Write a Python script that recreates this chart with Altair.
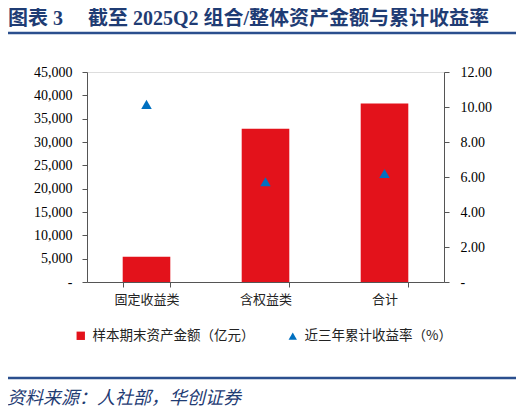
import altair as alt
import pandas as pd

categories = ["固定收益类", "含权益类", "合计"]
assets = [5400, 32850, 38250]          # 样本期末资产金额（亿元）
returns = [10.15, 5.73, 6.20]          # 近三年累计收益率（%）
left_ticks = list(range(0, 45001, 5000))
right_ticks = [0, 2, 4, 6, 8, 10, 12]

s1 = "样本期末资产金额（亿元）"
s2 = "近三年累计收益率（%）"
title_text = "图表 3\u3000 截至 2025Q2 组合/整体资产金额与累计收益率"
source_text = "资料来源：人社部，华创证券"

df_bar = pd.DataFrame({"cat": categories, "val": assets, "series": s1})
df_pt = pd.DataFrame({"cat": categories, "val": returns, "series": s2})

RED = "#E3121B"
BLUE = "#0070C0"
NAVY = "#1F3C74"
CJK = "Noto Sans CJK SC"
SERIF = "Liberation Serif"
MIXED = "Liberation Serif, Noto Sans CJK SC"

W, H = 357, 210

xenc = alt.X(
    "cat:N", sort=categories, title=None,
    scale=alt.Scale(paddingInner=0.6, paddingOuter=0.3),
    axis=alt.Axis(tickBand="extent", labelAngle=0, labelFont=CJK, labelFontSize=13,
                  labelColor="#222222", domainColor="#555555", tickColor="#555555",
                  tickSize=5, labelPadding=6),
)

color_scale = alt.Scale(domain=[s1, s2], range=[RED, BLUE])
shape_scale = alt.Scale(domain=[s1, s2], range=["square", "triangle-up"])

legend = alt.Legend(
    title=None, orient="none", direction="horizontal", legendX=-13, legendY=257,
    labelFont=CJK, labelFontSize=13.5, labelColor="#222222", symbolSize=70,
    columnPadding=30, symbolOpacity=1, labelOffset=5, labelLimit=300,
)

bars = alt.Chart(df_bar).mark_bar(color=RED).encode(
    x=xenc,
    y=alt.Y("val:Q", title=None,
            scale=alt.Scale(domain=[0, 45000], nice=False),
            axis=alt.Axis(values=left_ticks, grid=False, orient="left",
                          labelExpr="datum.value == 0 ? '-\u00a0\u00a0\u00a0\u00a0' : format(datum.value, ',')",
                          labelFont=SERIF, labelFontSize=14, labelColor="#000000",
                          domainColor="#555555", tickColor="#555555", tickSize=5,
                          labelPadding=10)),
    color=alt.Color("series:N", scale=color_scale, legend=legend),
    shape=alt.Shape("series:N", scale=shape_scale, legend=legend),
)

points = alt.Chart(df_pt).mark_point(filled=True, size=110, opacity=1).encode(
    x=xenc,
    y=alt.Y("val:Q", title=None,
            scale=alt.Scale(domain=[0, 12], nice=False),
            axis=alt.Axis(values=right_ticks, grid=False, orient="right",
                          labelExpr="datum.value == 0 ? '\u00a0-' : format(datum.value, '.2f')",
                          labelFont=SERIF, labelFontSize=14, labelColor="#000000",
                          domainColor="#555555", tickColor="#555555", tickSize=5,
                          labelPadding=11)),
    color=alt.Color("series:N", scale=color_scale, legend=legend),
    shape=alt.Shape("series:N", scale=shape_scale, legend=legend),
)

title = alt.Chart(pd.DataFrame({"t": [title_text]})).mark_text(
    align="left", baseline="middle", font=MIXED, fontSize=20, fontWeight="bold", color=NAVY
).encode(text="t:N", x=alt.value(-79), y=alt.value(-53))

rule_top = alt.Chart(pd.DataFrame({"a": [0]})).mark_rule(color="#2B4F8E", strokeWidth=2.5).encode(
    x=alt.value(-82), x2=alt.value(430), y=alt.value(-39))
rule_bot = alt.Chart(pd.DataFrame({"a": [0]})).mark_rule(color="#2B4F8E", strokeWidth=2.5).encode(
    x=alt.value(-82), x2=alt.value(430), y=alt.value(306))

source = alt.Chart(pd.DataFrame({"t": [source_text]})).mark_text(
    align="left", baseline="middle", font=CJK, fontSize=18, fontStyle="italic", color=NAVY
).encode(text="t:N", x=alt.value(-80), y=alt.value(327))

main = alt.layer(bars, points).resolve_scale(y="independent")

chart = alt.layer(main, title, rule_top, rule_bot, source).properties(
    width=W, height=H,
    padding={"left": 79, "top": 64, "right": 72, "bottom": 130},
    autosize=alt.AutoSizeParams(type="none"),
).configure_view(stroke=None).configure(background="white")

chart.save("out.html", embed_options={"renderer": "svg", "actions": False})
